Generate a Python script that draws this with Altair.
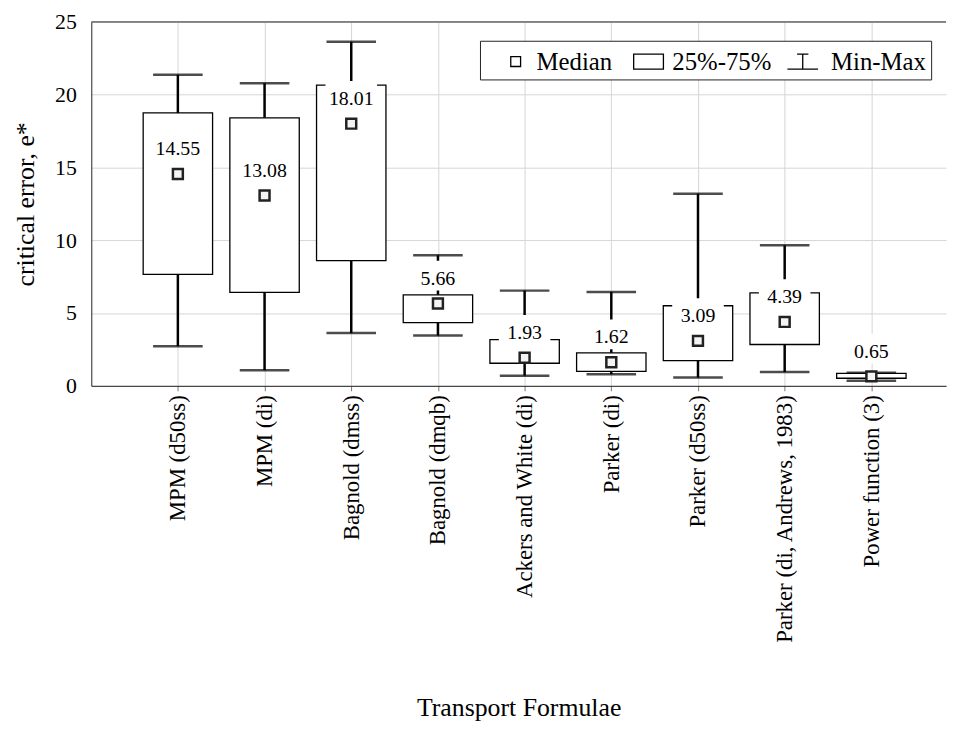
import altair as alt
import pandas as pd

formulas = [
    "MPM (d50ss)",
    "MPM (di)",
    "Bagnold (dmss)",
    "Bagnold (dmqb)",
    "Ackers and White (di)",
    "Parker (di)",
    "Parker (d50ss)",
    "Parker (di, Andrews, 1983)",
    "Power function (3)",
]
q_min = [2.72, 1.07, 3.63, 3.45, 0.70, 0.80, 0.57, 0.95, 0.35]
q1 = [7.65, 6.42, 8.60, 4.34, 1.55, 1.00, 1.73, 2.84, 0.52]
median = [14.55, 13.08, 18.01, 5.66, 1.93, 1.62, 3.09, 4.39, 0.65]
q3 = [18.75, 18.41, 20.66, 6.25, 3.18, 2.27, 5.50, 6.38, 0.86]
q_max = [21.37, 20.78, 23.64, 8.97, 6.54, 6.45, 13.20, 9.65, 0.90]
y_ticks = [0, 5, 10, 15, 20, 25]
legend_items = ["Median", "25%-75%", "Min-Max"]

df = pd.DataFrame({
    "formula": formulas, "qmin": q_min, "q1": q1, "median": median,
    "q3": q3, "qmax": q_max,
})
df["label"] = df["median"].map(lambda v: f"{v:.2f}")

FONT = "Liberation Serif"

x_enc = alt.X(
    "formula:N", sort=formulas, title="Transport Formulae",
    scale=alt.Scale(type="point", padding=0.93, align=0.537),
    axis=alt.Axis(
        labelAngle=270, labelAlign="right", labelBaseline="middle",
        labelFontSize=23, labelPadding=4, labelLimit=400,
        tickSize=5, tickColor="#777", domainColor="#222",
        grid=True, gridColor="#d6d6d6",
        titleFontSize=26, titleFontWeight="normal", titleY=311,
    ),
)
y_scale = alt.Scale(domain=[0, 25], nice=False)
y_axis = alt.Axis(
    values=y_ticks, labelFontSize=22, labelPadding=15, ticks=False,
    domainColor="#222", grid=True, gridColor="#d6d6d6",
    titleFontSize=26, titleFontWeight="normal", titlePadding=16,
)

base = alt.Chart(df)

whisker = base.mark_rule(color="black", strokeWidth=2.5).encode(
    x=x_enc,
    y=alt.Y("qmin:Q", scale=y_scale, axis=y_axis, title="critical error, e*"),
    y2="qmax:Q",
)
box = base.mark_bar(width=70, fill="white", stroke="black", strokeWidth=1.3).encode(
    x=x_enc, y="q1:Q", y2="q3:Q"
)
cap_min = base.mark_tick(color="black", size=50, thickness=2.5).encode(x=x_enc, y="qmin:Q")
cap_max = base.mark_tick(color="black", size=50, thickness=2.5).encode(x=x_enc, y="qmax:Q")
label_bg = base.mark_tick(color="white", size=52, thickness=30, yOffset=-28, opacity=1).encode(
    x=x_enc, y="median:Q"
)
label = base.mark_text(font=FONT, fontSize=20, dy=-25, color="black").encode(
    x=x_enc, y="median:Q", text="label:N"
)
med = base.mark_square(size=100, fill="#f4f4f4", stroke="#222", strokeWidth=2.5, opacity=1).encode(
    x=x_enc, y="median:Q"
)
top_rule = alt.Chart(pd.DataFrame({"v": [y_ticks[-1]]})).mark_rule(color="#222", strokeWidth=1).encode(
    y=alt.Y("v:Q", scale=y_scale)
)

median_path = "M0.67,-0.33H1.33V0.33H0.67Z"
box_path = "M-0.2,-0.5H1.8V0.5H-0.2Z"
whisker_path = "M0.12,-0.5H0.88M0.5,-0.5V0.5M-0.53,0.5H1.53"
leg_df = pd.DataFrame({"item": legend_items})
legend_layer = alt.Chart(leg_df).mark_point(opacity=0, filled=False, color="black").encode(
    shape=alt.Shape(
        "item:N",
        scale=alt.Scale(domain=legend_items, range=[median_path, box_path, whisker_path]),
        legend=alt.Legend(
            title=None, orient="none", legendX=392, legendY=19, direction="horizontal",
            columns=3, labelFont=FONT, labelFontSize=25, labelOffset=20, columnPadding=8,
            symbolSize=900, symbolStrokeWidth=1.3, symbolStrokeColor="black",
            symbolFillColor="white", symbolOpacity=1, strokeColor="#222",
            fillColor="white", padding=5,
        ),
    )
)

chart = alt.layer(
    whisker, box, cap_min, cap_max, label_bg, label, med, top_rule, legend_layer
).properties(
    width=862, height=367,
    padding={"left": 5, "top": 0, "right": 0, "bottom": 0},
).configure(font=FONT).configure_view(stroke=None)

chart.save("out.html", embed_options={"renderer": "svg", "actions": False})
